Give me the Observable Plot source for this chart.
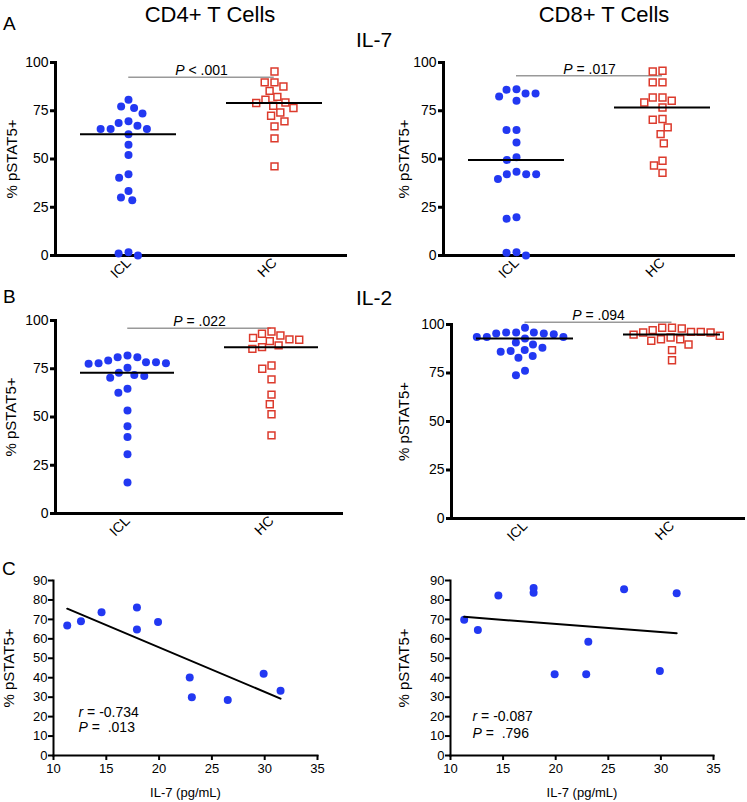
<!DOCTYPE html>
<html>
<head>
<meta charset="utf-8">
<script src="https://cdn.jsdelivr.net/npm/d3@7"></script>
<script src="https://cdn.jsdelivr.net/npm/@observablehq/plot@0.6"></script>
<style>
  html, body { margin: 0; padding: 0; background: #fff; }
  #root { position: relative; width: 747px; height: 802px; overflow: hidden; background: #fff;
          font-family: "Liberation Sans", Arial, Helvetica, sans-serif; color: #000; }
  .lbl { position: absolute; white-space: nowrap; line-height: 1; }
  .ctr { transform: translateX(-50%); }
  .panel { position: absolute; overflow: visible; }
</style>
</head>
<body>
<div id="root"></div>
<script>
// ---------------- data ----------------
const groups = ["ICL", "HC"];
const yTicksColumn = [0, 25, 50, 75, 100];
const yTicksScatter = [0, 10, 20, 30, 40, 50, 60, 70, 80, 90];
const xTicksScatter = [10, 15, 20, 25, 30, 35];

// A: IL-7 stimulation, % pSTAT5+
const cd4Il7Icl = [80.7, 77.2, 76.4, 73.6, 69.5, 68.6, 67.2, 65.5, 65.5, 65.5, 62.8, 57.4, 52.1, 42.1, 40.3, 33.4, 30.0, 28.6, 1.7, 1.0, 0.0];
const cd4Il7Hc  = [95.3, 89.7, 89.7, 87.6, 85.3, 82.2, 80.7, 79.3, 79.0, 77.6, 76.4, 74.1, 72.4, 69.5, 66.9, 60.7, 46.2];
const cd8Il7Icl = [86.2, 85.9, 84.0, 84.0, 82.4, 80.2, 65.0, 65.0, 58.6, 50.9, 49.5, 43.4, 42.1, 42.1, 42.1, 39.7, 19.8, 19.0, 1.7, 1.4, 0.0];
const cd8Il7Hc  = [95.7, 95.3, 89.7, 89.7, 81.9, 81.9, 80.2, 79.3, 76.7, 70.7, 70.3, 66.4, 62.9, 58.1, 49.1, 46.6, 42.8];

// B: IL-2 stimulation, % pSTAT5+
const cd4Il2Icl = [81.9, 81.0, 81.0, 79.3, 78.4, 78.4, 77.9, 77.9, 77.6, 75.5, 72.9, 71.7, 71.2, 70.3, 64.7, 62.6, 53.4, 45.2, 39.7, 30.7, 16.0];
const cd4Il2Hc  = [94.3, 93.1, 92.2, 91.0, 90.2, 90.0, 89.3, 87.1, 86.2, 85.3, 76.7, 75.0, 69.5, 61.6, 56.6, 51.4, 40.5];
const cd8Il2Icl = [98.3, 95.9, 95.9, 95.9, 95.4, 95.4, 95.0, 93.6, 93.6, 93.6, 92.8, 90.7, 89.7, 88.0, 86.8, 86.3, 85.9, 83.7, 82.8, 76.1, 73.9];
const cd8Il2Hc  = [98.3, 98.3, 97.9, 97.1, 96.2, 96.2, 95.9, 95.9, 94.8, 94.2, 93.3, 92.4, 92.4, 91.6, 89.7, 86.8, 81.6];

// P-value comparisons (label, bar level)
const pLabels = ["P < .001", "P = .017", "P = .022", "P = .094"];
const pLevels = [92.4, 93.1, 96.0, 101.2];

// C: serum IL-7 vs % pSTAT5+ (ICL patients)
const il7Serum = [11.3, 12.6, 14.55, 17.9, 17.9, 19.9, 22.9, 23.1, 26.5, 29.9, 31.5];
const cd4Pstat = [66.9, 69.1, 73.7, 76.1, 64.8, 68.6, 40.1, 30.0, 28.5, 42.0, 33.3];
const cd8Pstat = [69.8, 64.6, 82.3, 86.2, 83.7, 41.8, 41.8, 58.5, 85.5, 43.4, 83.5];
const rLabels = ["r = -0.734", "r = -0.087"];
const pCorrLabels = ["P = \u00a0.013", "P = \u00a0.796"];

// ---------------- styling ----------------
const FONT = '"Liberation Sans", Arial, Helvetica, sans-serif';
const BLUE = "#2238f2";
const RED = "#dc3a2c";
const NS = "http://www.w3.org/2000/svg";

function italicizeLead(svg) {
  svg.querySelectorAll("text").forEach(t => {
    const s = t.textContent;
    if (t.children.length === 0 && /^[Pr] [=<]/.test(s)) {
      t.textContent = "";
      const a = document.createElementNS(NS, "tspan");
      a.setAttribute("font-style", "italic");
      a.textContent = s[0];
      const b = document.createElementNS(NS, "tspan");
      b.textContent = s.slice(1);
      t.append(a, b);
    }
  });
}

function columnPanel(o) {
  const iclRows = o.icl.map(v => ({group: "ICL", value: v}));
  const hcRows = o.hc.map(v => ({group: "HC", value: v}));
  const rows = iclRows.concat(hcRows);
  const bandW = (o.width - o.marginLeft - o.marginRight) / 2;
  const pText = [{group: "ICL", level: o.pLevel, label: o.pLabel}];
  const pLeft = [{group: "ICL", level: o.pLevel}];
  const pRight = [{group: "HC", level: o.pLevel}];
  return Plot.plot({
    width: o.width, height: o.height,
    marginLeft: o.marginLeft, marginRight: o.marginRight,
    marginTop: o.marginTop, marginBottom: o.marginBottom,
    style: {fontFamily: FONT, fontSize: "14px", color: "#000", background: "transparent", overflow: "visible"},
    fx: {domain: groups, padding: 0, label: null},
    y: {domain: [0, 100], label: null},
    marks: [
      Plot.axisFx({anchor: "bottom", tickRotate: -45, tickSize: 0, tickPadding: 5, fontSize: 14, label: null}),
      Plot.axisY({ticks: yTicksColumn, tickSize: 5, tickPadding: 2, strokeWidth: 3, fontSize: 14, label: null}),
      Plot.axisY({ticks: [], label: "% pSTAT5+", labelAnchor: "center", labelArrow: "none", labelOffset: o.labelOffset, fontSize: 15}),
      Plot.frame({anchor: "left", strokeWidth: 3, facetAnchor: "left"}),
      Plot.ruleY([0], {strokeWidth: 3}),
      Plot.ruleY(pLeft, {fx: "group", y: "level", insetLeft: bandW / 2, stroke: "#999", strokeWidth: 1.5}),
      Plot.ruleY(pRight, {fx: "group", y: "level", insetRight: bandW / 2, stroke: "#999", strokeWidth: 1.5}),
      Plot.text(pText, {fx: "group", y: "level", text: "label", frameAnchor: "right", textAnchor: "middle", lineAnchor: "bottom", dy: -2, fontSize: 14}),
      Plot.dot(iclRows, Plot.dodgeX({anchor: "middle", padding: 2, fx: "group", y: "value", r: 4, fill: BLUE})),
      Plot.dot(hcRows, Plot.dodgeX({anchor: "middle", padding: 2, fx: "group", y: "value", r: 3.9, symbol: "square", stroke: RED, strokeWidth: 1.5, fill: "none"})),
      Plot.tickY(rows, Plot.groupZ({y: "median"}, {y: "value", fx: "group", stroke: "#000", strokeWidth: 2, insetLeft: 25, insetRight: 25}))
    ]
  });
}

function scatterPanel(o) {
  const rows = il7Serum.map((x, i) => ({il7: x, pstat: o.values[i]}));
  return Plot.plot({
    width: o.width, height: o.height,
    marginLeft: o.marginLeft, marginRight: o.marginRight,
    marginTop: o.marginTop, marginBottom: o.marginBottom,
    style: {fontFamily: FONT, fontSize: "13px", color: "#000", background: "transparent", overflow: "visible"},
    x: {domain: [xTicksScatter[0], xTicksScatter[xTicksScatter.length - 1]], label: null},
    y: {domain: [yTicksScatter[0], yTicksScatter[yTicksScatter.length - 1]], label: null},
    marks: [
      Plot.axisX({ticks: xTicksScatter, tickSize: 5, tickPadding: 3, strokeWidth: 2, fontSize: 13,
                  label: "IL-7 (pg/mL)", labelAnchor: "center", labelArrow: "none", labelOffset: 41}),
      Plot.axisY({ticks: yTicksScatter, tickSize: 5, tickPadding: 1, strokeWidth: 2, fontSize: 13, label: null}),
      Plot.axisY({ticks: [], label: "% pSTAT5+", labelAnchor: "center", labelArrow: "none", labelOffset: o.labelOffset, fontSize: 15}),
      Plot.frame({anchor: "left", strokeWidth: 2}),
      Plot.frame({anchor: "bottom", strokeWidth: 2}),
      Plot.dot(rows, {x: "il7", y: "pstat", r: 4, fill: BLUE}),
      Plot.linearRegressionY(rows, {x: "il7", y: "pstat", ci: 0, stroke: "#000", strokeWidth: 2}),
      Plot.text([o.rLabel], {frameAnchor: "bottom-left", textAnchor: "start", lineAnchor: "bottom",
                             dx: o.textDx, dy: o.rDy, fontSize: 14}),
      Plot.text([o.pLabel], {frameAnchor: "bottom-left", textAnchor: "start", lineAnchor: "bottom",
                             dx: o.textDx, dy: o.pDy, fontSize: 14})
    ]
  });
}

const root = document.getElementById("root");

function place(svg, left, top) {
  svg.classList.add("panel");
  svg.style.position = "absolute";
  svg.style.left = left + "px";
  svg.style.top = top + "px";
  italicizeLead(svg);
  root.appendChild(svg);
}

function label(text, left, top, size, centered) {
  const d = document.createElement("div");
  d.className = "lbl" + (centered ? " ctr" : "");
  d.textContent = text;
  d.style.left = left + "px";
  d.style.top = top + "px";
  d.style.fontSize = size + "px";
  root.appendChild(d);
}

// Row A: IL-7
place(columnPanel({icl: cd4Il7Icl, hc: cd4Il7Hc, pLabel: pLabels[0], pLevel: pLevels[0],
  width: 360, height: 265, marginLeft: 54, marginRight: 13, marginTop: 32, marginBottom: 40, labelOffset: 49}), 0, 30);
place(columnPanel({icl: cd8Il7Icl, hc: cd8Il7Hc, pLabel: pLabels[1], pLevel: pLevels[1],
  width: 374, height: 265, marginLeft: 70, marginRight: 12, marginTop: 32, marginBottom: 40, labelOffset: 45}), 373, 30);

// Row B: IL-2
place(columnPanel({icl: cd4Il2Icl, hc: cd4Il2Hc, pLabel: pLabels[2], pLevel: pLevels[2],
  width: 360, height: 265, marginLeft: 54, marginRight: 17, marginTop: 30, marginBottom: 42, labelOffset: 50}), 0, 290);
place(columnPanel({icl: cd8Il2Icl, hc: cd8Il2Hc, pLabel: pLabels[3], pLevel: pLevels[3],
  width: 374, height: 265, marginLeft: 78, marginRight: 2, marginTop: 34, marginBottom: 37, labelOffset: 53}), 373, 290);

// Row C: correlations
place(scatterPanel({values: cd4Pstat, rLabel: rLabels[0], pLabel: pCorrLabels[0], rDy: -39, pDy: -24, textDx: 25,
  width: 340, height: 242, marginLeft: 53, marginRight: 23, marginTop: 20, marginBottom: 47, labelOffset: 50}), 0, 560);
place(scatterPanel({values: cd8Pstat, rLabel: rLabels[1], pLabel: pCorrLabels[1], rDy: -35, pDy: -18, textDx: 22,
  width: 374, height: 242, marginLeft: 77, marginRight: 34, marginTop: 20, marginBottom: 47, labelOffset: 52}), 373, 560);

// Titles and panel letters
label("CD4+ T Cells", 210, 3.5, 22, true);
label("CD8+ T Cells", 604, 3.5, 22, true);
label("A", 3, 14, 19, false);
label("B", 3, 287, 19, false);
label("C", 2, 559, 19, false);
label("IL-7", 374, 29, 21, true);
label("IL-2", 374, 287, 21, true);
</script>
</body>
</html>
